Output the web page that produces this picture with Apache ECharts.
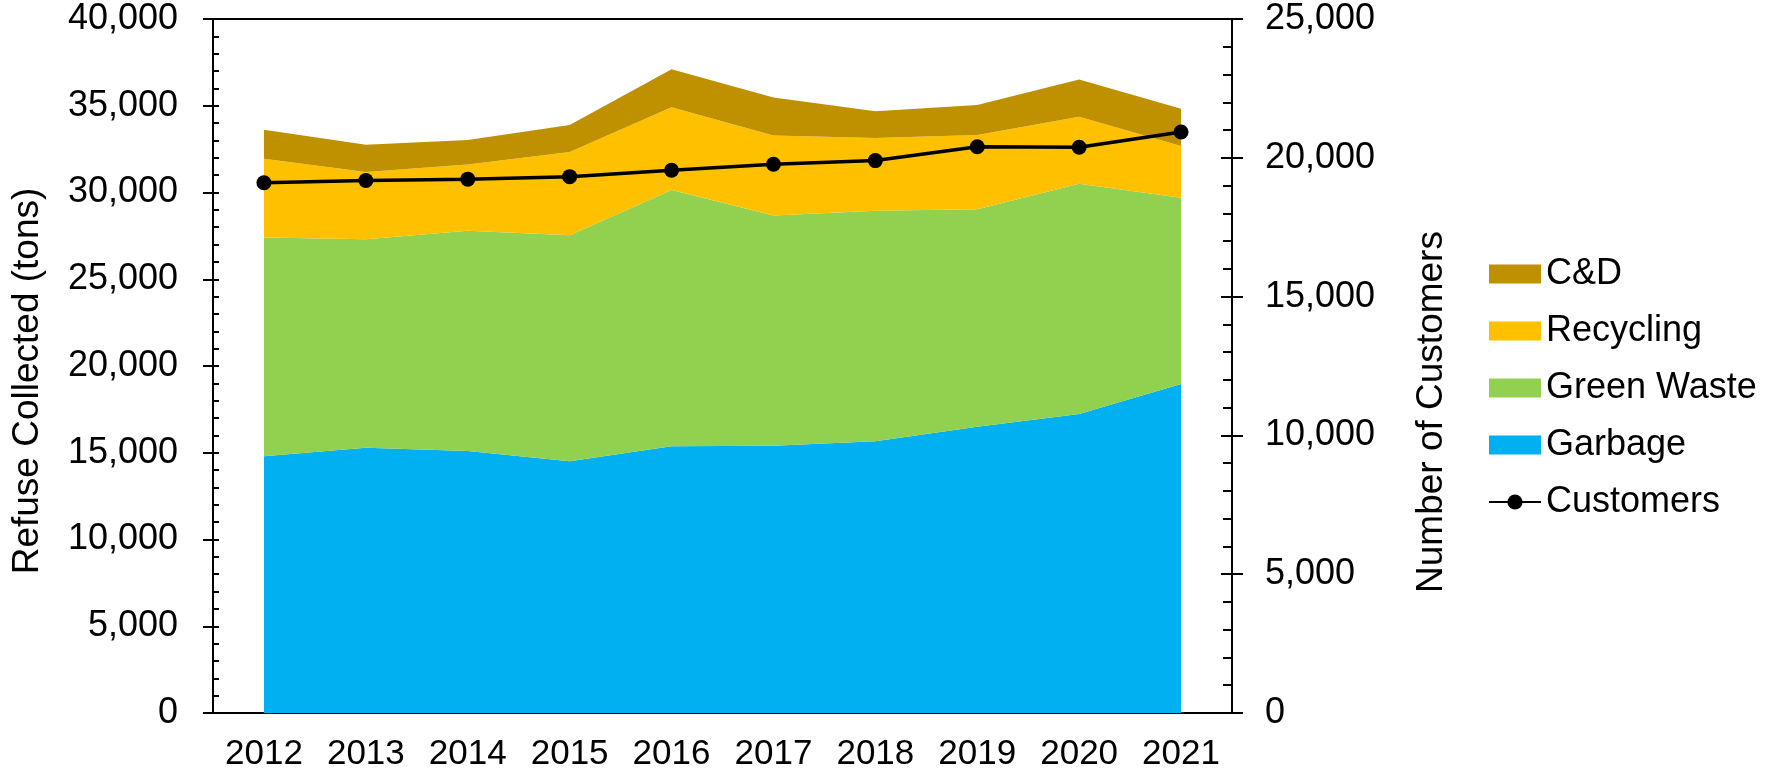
<!DOCTYPE html>
<html>
<head>
<meta charset="utf-8">
<script src="https://cdn.jsdelivr.net/npm/echarts@6/dist/echarts.min.js"></script>
<style>
  html, body { margin: 0; padding: 0; background: #ffffff; }
  #chart { width: 1768px; height: 778px; }
</style>
</head>
<body>
<div id="chart"></div>
<script>
const categories = ['2012', '2013', '2014', '2015', '2016', '2017', '2018', '2019', '2020', '2021'];
const garbage    = [14800, 15290, 15100, 14510, 15370, 15410, 15660, 16500, 17230, 18960];
const greenWaste = [12600, 12010, 12700, 13020, 14780, 13260, 13290, 12530, 13280, 10740];
const recycling  = [4540, 3880, 3810, 4800, 4770, 4610, 4190, 4280, 3860, 2980];
const cd         = [1670, 1570, 1420, 1560, 2190, 2190, 1540, 1730, 2150, 2150];
const customers  = [19100, 19180, 19230, 19320, 19550, 19770, 19900, 20400, 20380, 20930];

const FONT = '"Liberation Sans", Arial, sans-serif';
const fmt = v => Number(v).toLocaleString('en-US');

const chart = echarts.init(document.getElementById('chart'), null, { renderer: 'canvas' });

function areaSeries(name, data, color) {
  return {
    name: name, type: 'line', stack: 'refuse', data: data,
    color: color,
    symbol: 'none', showSymbol: false,
    lineStyle: { width: 0, color: color },
    areaStyle: { color: color, opacity: 1 },
    itemStyle: { color: color },
    yAxisIndex: 0, z: 2, animation: false
  };
}

const tickOnly = (pos, max, interval, len) => ({
  type: 'value', position: pos, min: 0, max: max, interval: interval,
  axisLine: { show: false },
  axisTick: { show: true, inside: false, length: len, lineStyle: { color: '#000', width: 2 } },
  axisLabel: { show: false }, splitLine: { show: false }, minorTick: { show: false }
});

chart.setOption({
  animation: false,
  backgroundColor: '#ffffff',
  textStyle: { fontFamily: FONT, color: '#000' },
  grid: { left: 213, right: 536, top: 19, bottom: 65, show: true, borderColor: '#000', borderWidth: 2, backgroundColor: 'transparent' },
  legend: {
    orient: 'vertical', left: 1483, top: 251,
    itemWidth: 52, itemHeight: 19, itemGap: 21,
    textStyle: { fontFamily: FONT, fontSize: 36, color: '#000', lineHeight: 36 },
    data: [
      { name: 'C&D', icon: 'rect' },
      { name: 'Recycling', icon: 'rect' },
      { name: 'Green Waste', icon: 'rect' },
      { name: 'Garbage', icon: 'rect' },
      { name: 'Customers' }
    ]
  },
  xAxis: {
    type: 'category', data: categories, boundaryGap: true,
    axisLine: { show: true, lineStyle: { color: '#000', width: 2 } },
    axisTick: { show: false },
    axisLabel: { fontFamily: FONT, fontSize: 35, color: '#000', margin: 24, interval: 0, hideOverlap: false },
    splitLine: { show: false }
  },
  yAxis: [
    {
      type: 'value', position: 'left', min: 0, max: 40000, interval: 5000,
      name: 'Refuse Collected (tons)', nameLocation: 'middle', nameRotate: 90, nameGap: 167,
      nameTextStyle: { fontFamily: FONT, fontSize: 37, color: '#000', padding: [0, 30, 0, 0] },
      axisLine: { show: true, lineStyle: { color: '#000', width: 2 } },
      axisTick: { show: true, inside: true, length: 6, lineStyle: { color: '#000', width: 2 } },
      minorTick: { show: true, splitNumber: 5, length: 6, lineStyle: { color: '#000', width: 2 } },
      axisLabel: { fontFamily: FONT, fontSize: 36, color: '#000', margin: 35, formatter: fmt },
      splitLine: { show: false }
    },
    {
      type: 'value', position: 'right', min: 0, max: 25000, interval: 5000,
      name: 'Number of Customers', nameLocation: 'middle', nameRotate: 90, nameGap: 181,
      nameTextStyle: { fontFamily: FONT, fontSize: 37, color: '#000', padding: [0, 92, 0, 0] },
      axisLine: { show: true, lineStyle: { color: '#000', width: 2 } },
      axisTick: { show: true, inside: true, length: 11, lineStyle: { color: '#000', width: 2 } },
      minorTick: { show: true, splitNumber: 5, length: 9, lineStyle: { color: '#000', width: 2 } },
      axisLabel: { fontFamily: FONT, fontSize: 36, color: '#000', margin: 33, formatter: fmt },
      splitLine: { show: false }
    },
    tickOnly('left', 40000, 5000, 10),
    tickOnly('right', 25000, 5000, 11)
  ],
  series: [
    areaSeries('Garbage', garbage, '#00B0F0'),
    areaSeries('Green Waste', greenWaste, '#92D050'),
    areaSeries('Recycling', recycling, '#FFC000'),
    areaSeries('C&D', cd, '#BF9000'),
    {
      name: 'Customers', type: 'line', data: customers, yAxisIndex: 1,
      color: '#000',
      symbol: 'circle', symbolSize: 15, showSymbol: true,
      lineStyle: { color: '#000', width: 3.5 },
      itemStyle: { color: '#000' },
      z: 5, animation: false
    }
  ]
});
</script>
</body>
</html>
